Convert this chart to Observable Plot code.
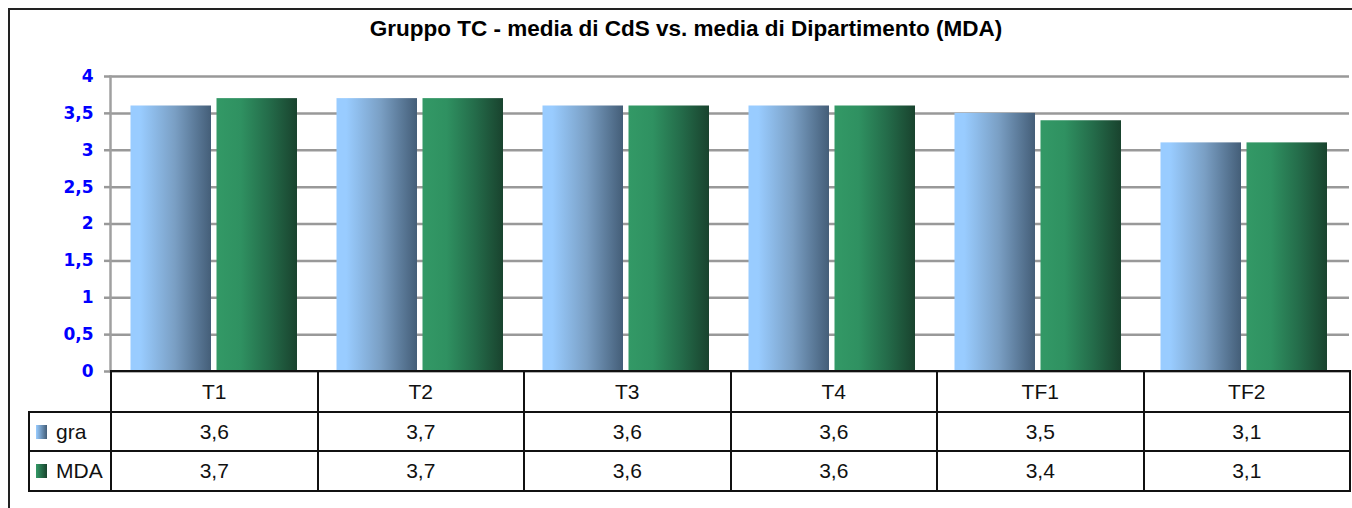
<!DOCTYPE html>
<html>
<head>
<meta charset="utf-8">
<script src="https://cdn.jsdelivr.net/npm/d3@7"></script>
<script src="https://cdn.jsdelivr.net/npm/@observablehq/plot@0.6"></script>
<style>
  html, body { margin: 0; padding: 0; background: #fff; overflow: hidden; }
  #frame { position: absolute; left: 8px; top: 8px; width: 1360px; height: 520px; border-left: 2px solid #222; border-top: 2px solid #222; box-sizing: border-box; }
  #title { position: absolute; left: 8px; width: 1356px; top: 16px; text-align: center; font: bold 22.5px "Liberation Sans", Arial, sans-serif; color: #000; }
  #chart { position: absolute; left: 0; top: 56px; }
  table { position: absolute; left: 28px; top: 370px; border-collapse: collapse; table-layout: fixed; font: 21px "Liberation Sans", Arial, sans-serif; color: #111; }
  td { border: 2px solid #111; text-align: center; padding: 0; }
  td.corner { border-top: none; border-left: none; }
  td.leg { text-align: left; padding-left: 6px; white-space: nowrap; }
  .key { display: inline-block; width: 11px; height: 14px; vertical-align: 0px; margin-right: 9px; }
</style>
</head>
<body>
<div id="frame"></div>
<div id="title"></div>
<div id="chart"></div>
<table id="tbl"></table>
<script>
const title = "Gruppo TC - media di CdS vs. media di Dipartimento (MDA)";
const categories = ["T1", "T2", "T3", "T4", "TF1", "TF2"];
const seriesNames = ["gra", "MDA"];
const graValues = [3.6, 3.7, 3.6, 3.6, 3.5, 3.1];
const mdaValues = [3.7, 3.7, 3.6, 3.6, 3.4, 3.1];
const yTicks = [0, 0.5, 1, 1.5, 2, 2.5, 3, 3.5, 4];

const fmt = v => String(v).replace(".", ",");
document.getElementById("title").textContent = title;

const graData = categories.map((c, i) => ({cat: c, value: graValues[i]}));
const mdaData = categories.map((c, i) => ({cat: c, value: mdaValues[i]}));

const W = 1352, mL = 110, mR = 3;
const band = (W - mL - mR) / categories.length;
const barW = 81, gap = 5, outer = 18.5;

const plot = Plot.plot({
  width: W,
  height: 315,
  marginLeft: mL,
  marginRight: mR,
  marginTop: 20,
  marginBottom: 0,
  x: {type: "band", domain: categories, padding: 0, axis: null},
  y: {domain: [0, 4], axis: null},
  marks: [
    Plot.gridY(yTicks, {stroke: "#999", strokeOpacity: 1, strokeWidth: 2.5}),
    Plot.barY(graData, {x: "cat", y: "value", fill: "url(#gGra)", insetLeft: outer, insetRight: band - outer - barW}),
    Plot.barY(mdaData, {x: "cat", y: "value", fill: "url(#gMda)", insetLeft: outer + barW + gap, insetRight: band - outer - 2 * barW - gap}),
    Plot.frame({anchor: "left", stroke: "#a0a0a0", strokeWidth: 2.5}),
    Plot.axisY({ticks: yTicks, tickFormat: fmt, label: null, tickSize: 6, tickPadding: 11, stroke: "#999", strokeWidth: 2.5, fill: "#0000ff", fontWeight: "bold", fontSize: 17, fontFamily: "DejaVu Sans, Verdana, sans-serif"})
  ]
});
const svg = d3.select(plot);
svg.style("overflow", "visible");
const defs = svg.insert("defs", ":first-child");
const g1 = defs.append("linearGradient").attr("id", "gGra").attr("x1", "0").attr("x2", "1").attr("y1", "0").attr("y2", "0");
[[0, "#99ccff"], [0.12, "#99ccff"], [0.55, "#7a9fc4"], [1, "#445e78"]].forEach(([o, c]) => g1.append("stop").attr("offset", o).attr("stop-color", c));
const g2 = defs.append("linearGradient").attr("id", "gMda").attr("x1", "0").attr("x2", "1").attr("y1", "0").attr("y2", "0");
[[0, "#339966"], [0.3, "#2f9161"], [0.65, "#246c4a"], [1, "#19432e"]].forEach(([o, c]) => g2.append("stop").attr("offset", o).attr("stop-color", c));
document.getElementById("chart").appendChild(plot);

// data table
const tbl = d3.select("#tbl").style("width", (W - mR - 28) + "px");
const cg = tbl.append("colgroup");
cg.append("col").style("width", (mL - 28) + "px");
categories.forEach(() => cg.append("col").style("width", band + "px"));
const head = tbl.append("tr").style("height", "41px");
head.append("td").attr("class", "corner");
categories.forEach(c => head.append("td").text(c));
const rows = [[seriesNames[0], graValues, "linear-gradient(to right,#99ccff,#445e78)"], [seriesNames[1], mdaValues, "linear-gradient(to right,#339966,#19432e)"]];
rows.forEach(([name, vals, bg], ri) => {
  const tr = tbl.append("tr").style("height", ri === 0 ? "39px" : "40px");
  const lc = tr.append("td").attr("class", "leg");
  lc.append("span").attr("class", "key").style("background", bg);
  lc.append("span").text(name);
  vals.forEach(v => tr.append("td").text(fmt(v)));
});
</script>
</body>
</html>
